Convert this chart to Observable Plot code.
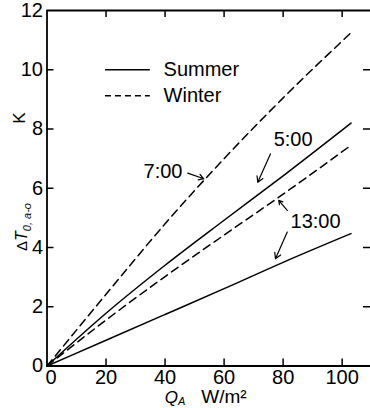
<!DOCTYPE html>
<html><head><meta charset="utf-8">
<script src="https://cdn.jsdelivr.net/npm/d3@7"></script>
<script src="https://cdn.jsdelivr.net/npm/@observablehq/plot@0.6"></script>
<style>body{margin:0;background:#fff}</style>
</head><body><div id="chart"></div>
<script>
// ---- data ----
const Q = [0, 20, 40, 60, 80, 103];                 // W/m²
const summer5  = [0, 1.78, 3.40, 4.92, 6.42, 8.20];  // K
const summer13 = [0, 0.87, 1.74, 2.61, 3.50, 4.47];
const winter7  = [0, 2.42, 4.80, 7.00, 9.05, 11.25];
const winter13 = [0, 1.55, 3.02, 4.42, 5.80, 7.45];

const xTicks = [0, 20, 40, 60, 80, 100];
const yTicks = [0, 2, 4, 6, 8, 10, 12];

const legendLabels = ["Summer", "Winter"];
const legendY = [10.0, 9.12];

const timeLabels = [
  {text: "7:00", x: 45.9, y: 6.57, anchor: "end"},
  {text: "5:00", x: 76.8, y: 7.64, anchor: "start"},
  {text: "13:00", x: 82.5, y: 4.89, anchor: "start"}
];
const arrows = [
  {x1: 47.7, y1: 6.51, x2: 53.1, y2: 6.32},
  {x1: 75.7, y1: 7.16, x2: 71.4, y2: 6.20},
  {x1: 81.4, y1: 5.25, x2: 78.5, y2: 5.59},
  {x1: 81.4, y1: 4.52, x2: 77.4, y2: 3.62}
];

// ---- build table ----
const series = [
  {key: "Summer 5:00", season: "Summer", values: summer5},
  {key: "Summer 13:00", season: "Summer", values: summer13},
  {key: "Winter 7:00", season: "Winter", values: winter7},
  {key: "Winter 13:00", season: "Winter", values: winter13}
];
const rows = series.flatMap(s => Q.map((q, i) => ({q, t: s.values[i], key: s.key, season: s.season})));

const W = 370, H = 408, mL = 46.5, mR = 0, mT = 10, mB = 42.5;
const innerW = W - mL - mR, innerH = H - mT - mB;
const tick = 7;
const font = "'Liberation Sans', Arial, Helvetica, sans-serif";

const chart = Plot.plot({
  width: W, height: H,
  marginLeft: mL, marginRight: mR, marginTop: mT, marginBottom: mB,
  x: {domain: [0, 109.6]},
  y: {domain: [0, 12]},
  style: {fontFamily: font, fontSize: "20px", color: "#000", background: "#fff", overflow: "visible"},
  marks: [
    Plot.axisX(xTicks.slice(0, 1), {tickSize: 0, tickPadding: 4, label: null, fontSize: 20, dx: 4}),
    Plot.axisX(xTicks.slice(1), {tickSize: 0, tickPadding: 4, label: null, fontSize: 20}),
    Plot.axisY(yTicks, {tickSize: 0, tickPadding: 4, label: null, fontSize: 20}),
    // frame (left, bottom, top)
    Plot.ruleX([0], {strokeWidth: 1.8}),
    Plot.ruleY([0, 12], {strokeWidth: 1.8}),
    // inward ticks
    Plot.tickX(xTicks.slice(1), {x: d => d, insetTop: innerH - tick, strokeWidth: 1.5}),
    Plot.tickX(xTicks.slice(1), {x: d => d, insetBottom: innerH - tick, strokeWidth: 1.5}),
    Plot.tickY(yTicks.slice(1, -1), {y: d => d, insetRight: innerW - tick, strokeWidth: 1.5}),
    Plot.tickY(yTicks.slice(1, -1), {y: d => d, insetLeft: innerW - tick, strokeWidth: 1.5}),
    // curves
    Plot.line(rows.filter(d => d.season === "Summer"), {x: "q", y: "t", z: "key", stroke: "#000", strokeWidth: 1.5, curve: "monotone-x"}),
    Plot.line(rows.filter(d => d.season === "Winter"), {x: "q", y: "t", z: "key", stroke: "#000", strokeWidth: 1.5, strokeDasharray: "8,5", curve: "monotone-x"}),
    // legend
    Plot.ruleY([legendY[0]], {y: d => d, x1: 19.8, x2: 35, strokeWidth: 1.5}),
    Plot.ruleY([legendY[1]], {y: d => d, x1: 19.8, x2: 35, strokeWidth: 1.5, strokeDasharray: "6,4"}),
    Plot.text(legendLabels, {x: 39.5, y: (d, i) => legendY[i], text: d => d, textAnchor: "start", lineAnchor: "middle", fontSize: 20}),
    // annotations
    Plot.text(timeLabels.filter(d => d.anchor === "start"), {x: "x", y: "y", text: "text", textAnchor: "start", lineAnchor: "middle", fontSize: 20}),
    Plot.text(timeLabels.filter(d => d.anchor === "end"), {x: "x", y: "y", text: "text", textAnchor: "end", lineAnchor: "middle", fontSize: 20}),
    Plot.arrow(arrows, {x1: "x1", y1: "y1", x2: "x2", y2: "y2", bend: 0, headLength: 8, strokeWidth: 1.2, stroke: "#000"})
  ]
});

document.getElementById("chart").appendChild(chart);

// axis titles with subscripts
const svg = d3.select(chart);
const qa = svg.append("text").attr("x", 175).attr("y", 403).attr("font-family", font).attr("fill", "#000");
qa.append("tspan").attr("font-size", 17).attr("font-style", "italic").text("Q");
qa.append("tspan").attr("font-size", 11).attr("font-style", "italic").attr("dy", 2).text("A");
svg.append("text").attr("x", 224).attr("y", 403).attr("font-family", font).attr("font-size", 19).attr("fill", "#000").text("W/m²");

svg.append("text").attr("transform", "translate(25,118) rotate(-90)").attr("font-family", font).attr("font-size", 17).attr("fill", "#000").text("K");
const dt = svg.append("text").attr("transform", "translate(27,227) rotate(-90)").attr("font-family", font).attr("fill", "#000");
dt.append("tspan").attr("font-size", 15).text("Δ");
dt.append("tspan").attr("font-size", 16).attr("font-style", "italic").text("T");
dt.append("tspan").attr("font-size", 11).attr("font-style", "italic").attr("dy", 4).text("0, a-o");
</script>
</body></html>
